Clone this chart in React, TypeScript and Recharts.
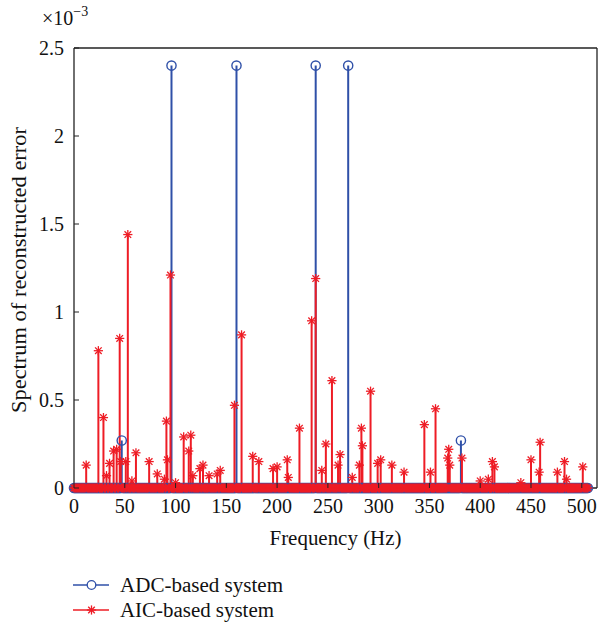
import React from 'react';
import { ComposedChart, Scatter, XAxis, YAxis, ErrorBar } from 'recharts';

// Frequency grid (Hz) of the spectrum bins
const FREQ_MAX_HZ = 506;
const X_TICKS = [0, 50, 100, 150, 200, 250, 300, 350, 400, 450, 500];
const Y_TICKS = [0, 0.5, 1, 1.5, 2, 2.5];

// Spectrum values in units of 1e-3: [frequency Hz, value]
const ADC_PEAKS: [number, number][] = [
  [47, 0.27], [96, 2.4], [160, 2.4], [238, 2.4], [270, 2.4], [381, 0.27],
];
const AIC_PEAKS: [number, number][] = [
  [12, 0.13], [24, 0.78], [29, 0.4], [32, 0.07], [35, 0.14], [39, 0.21], [42, 0.22],
  [45, 0.85], [46, 0.15], [51, 0.15], [53, 1.44], [57, 0.04], [61, 0.2], [74, 0.15],
  [82, 0.08], [89, 0.05], [91, 0.38], [92, 0.16], [95, 1.21], [100, 0.03], [108, 0.29],
  [113, 0.21], [115, 0.3], [117, 0.07], [124, 0.11], [127, 0.13], [133, 0.07], [141, 0.08],
  [144, 0.1], [158, 0.47], [165, 0.87], [176, 0.18], [182, 0.15], [196, 0.11], [200, 0.12],
  [210, 0.16], [211, 0.06], [222, 0.34], [234, 0.95], [238, 1.19], [244, 0.1], [248, 0.25],
  [254, 0.61], [260, 0.13], [262, 0.19], [274, 0.06], [281, 0.13], [283, 0.34], [284, 0.24],
  [292, 0.55], [299, 0.14], [302, 0.16], [313, 0.13], [325, 0.09], [345, 0.36], [351, 0.09],
  [356, 0.45], [368, 0.17], [369, 0.22], [370, 0.13], [382, 0.17], [400, 0.04], [408, 0.05],
  [412, 0.15], [414, 0.12], [440, 0.03], [450, 0.16], [458, 0.09], [459, 0.26], [476, 0.09],
  [483, 0.15], [485, 0.05], [501, 0.12],
];

const BLUE = '#2f50a8';
const RED = '#ee1c25';
const AXIS = '#222';
const FONT = '"Liberation Serif", "DejaVu Serif", serif';
const FS = 20;

const bins = Array.from({ length: FREQ_MAX_HZ + 1 }, (_, i) => i);
const adcMap = new Map(ADC_PEAKS);
const aicMap = new Map(AIC_PEAKS);
const adcData = bins.map((f) => ({ f, v: adcMap.get(f) ?? 0 }));
const aicData = bins.map((f) => ({ f, v: aicMap.get(f) ?? 0 }));

const Circle = (p: any) => (
  <circle cx={p.cx} cy={p.cy} r={4.6} fill="none" stroke={BLUE} strokeWidth={1.4} />
);

const Star = (p: any) => {
  const { cx, cy } = p;
  const s = 4.6;
  const d = s * 0.72;
  return (
    <g stroke={RED} strokeWidth={1.3}>
      <line x1={cx - s} y1={cy} x2={cx + s} y2={cy} />
      <line x1={cx} y1={cy - s} x2={cx} y2={cy + s} />
      <line x1={cx - d} y1={cy - d} x2={cx + d} y2={cy + d} />
      <line x1={cx - d} y1={cy + d} x2={cx + d} y2={cy - d} />
    </g>
  );
};

const LM = 10; // left tick margin
const BM = 10; // bottom tick margin

const LeftTick = (p: any) => {
  const { x, y, payload } = p;
  return (
    <g>
      <line x1={x + LM} x2={x + LM + 5} y1={y} y2={y} stroke={AXIS} strokeWidth={1} />
      <text x={x} y={y} dy="0.34em" textAnchor="end" fontFamily={FONT} fontSize={FS} fill="#111">
        {payload.value}
      </text>
    </g>
  );
};

const BottomTick = (p: any) => {
  const { x, y, payload } = p;
  return (
    <g>
      <line x1={x} x2={x} y1={y - BM} y2={y - BM - 5} stroke={AXIS} strokeWidth={1} />
      <text x={x} y={y + 15} textAnchor="middle" fontFamily={FONT} fontSize={FS} fill="#111">
        {payload.value}
      </text>
    </g>
  );
};

const TopTick = (p: any) => (
  <line x1={p.x} x2={p.x} y1={p.y} y2={p.y + 5} stroke={AXIS} strokeWidth={1} />
);
const RightTick = (p: any) => (
  <line x1={p.x - 5} x2={p.x} y1={p.y} y2={p.y} stroke={AXIS} strokeWidth={1} />
);

const YTitle = (p: any) => {
  const vb = p.viewBox || {};
  const cx = (vb.x ?? 0) + 19;
  const cy = (vb.y ?? 0) + (vb.height ?? 0) / 2 + 2;
  const top = vb.y ?? 0;
  return (
    <g>
      <text
        x={cx}
        y={cy}
        transform={`rotate(-90 ${cx} ${cy})`}
        textAnchor="middle"
        dy="0.35em"
        fontFamily={FONT}
        fontSize={FS}
        fill="#111"
        textLength={286}
        lengthAdjust="spacingAndGlyphs"
      >
        Spectrum of reconstructed error
      </text>
      <text x={42} y={top - 23} fontFamily={FONT} fontSize={FS} fill="#111">
        ×10
        <tspan dy={-9} fontSize={14}>−3</tspan>
      </text>
    </g>
  );
};

const XTitle = (p: any) => {
  const vb = p.viewBox || {};
  const cx = (vb.x ?? 0) + (vb.width ?? 0) / 2;
  const y = (vb.y ?? 0) + 57;
  return (
    <text
      x={cx}
      y={y}
      textAnchor="middle"
      fontFamily={FONT}
      fontSize={FS}
      fill="#111"
      textLength={132}
      lengthAdjust="spacingAndGlyphs"
    >
      Frequency (Hz)
    </text>
  );
};

const Legend = () => (
  <svg width={599} height={70} style={{ position: 'absolute', left: 0, top: 560 }}>
    <g>
      <line x1={73} x2={109} y1={25} y2={25} stroke={BLUE} strokeWidth={1.3} />
      <circle cx={91.5} cy={25} r={4.3} fill="#fff" stroke={BLUE} strokeWidth={1.3} />
      <text
        x={120}
        y={25}
        dy="0.34em"
        fontFamily={FONT}
        fontSize={FS}
        fill="#111"
        textLength={163}
        lengthAdjust="spacingAndGlyphs"
      >
        ADC-based system
      </text>
    </g>
    <g>
      <line x1={73} x2={109} y1={50} y2={50} stroke={RED} strokeWidth={1.3} />
      <Star cx={91.5} cy={50} />
      <text
        x={120}
        y={50}
        dy="0.34em"
        fontFamily={FONT}
        fontSize={FS}
        fill="#111"
        textLength={154}
        lengthAdjust="spacingAndGlyphs"
      >
        AIC-based system
      </text>
    </g>
  </svg>
);

export default function App() {
  return (
    <div style={{ position: 'absolute', left: 0, top: 0, width: 599, height: 625, background: '#fff' }}>
      <ComposedChart width={599} height={625} margin={{ top: 8, right: 0, bottom: 0, left: 0 }}>
        <XAxis
          xAxisId="b"
          dataKey="f"
          type="number"
          domain={[0, 515]}
          ticks={X_TICKS}
          height={137}
          axisLine={{ stroke: AXIS, strokeWidth: 1.3 }}
          tickLine={false}
          tickSize={0}
          tickMargin={BM}
          tick={<BottomTick />}
          interval={0}
          label={<XTitle />}
        />
        <XAxis
          xAxisId="t"
          orientation="top"
          type="number"
          domain={[0, 515]}
          ticks={X_TICKS}
          height={40}
          axisLine={{ stroke: AXIS, strokeWidth: 1.3 }}
          tickLine={false}
          tickSize={0}
          tickMargin={0}
          tick={<TopTick />}
          interval={0}
        />
        <YAxis
          yAxisId="l"
          dataKey="v"
          type="number"
          domain={[0, 2.5]}
          ticks={Y_TICKS}
          width={74}
          axisLine={{ stroke: AXIS, strokeWidth: 1.3 }}
          tickLine={false}
          tickSize={0}
          tickMargin={LM}
          tick={<LeftTick />}
          interval={0}
          label={<YTitle />}
        />
        <YAxis
          yAxisId="r"
          orientation="right"
          type="number"
          domain={[0, 2.5]}
          ticks={Y_TICKS}
          width={2}
          axisLine={{ stroke: AXIS, strokeWidth: 1.3 }}
          tickLine={false}
          tickSize={0}
          tickMargin={0}
          tick={<RightTick />}
          interval={0}
        />
        <Scatter
          data={adcData}
          xAxisId="b"
          yAxisId="l"
          dataKey="v"
          shape={<Circle />}
          isAnimationActive={false}
        >
          <ErrorBar
            dataKey={(d: any) => [d.v, 0]}
            direction="y"
            width={0}
            stroke={BLUE}
            strokeWidth={2}
            isAnimationActive={false}
          />
        </Scatter>
        <Scatter
          data={aicData}
          xAxisId="b"
          yAxisId="l"
          dataKey="v"
          shape={<Star />}
          isAnimationActive={false}
        >
          <ErrorBar
            dataKey={(d: any) => [d.v, 0]}
            direction="y"
            width={0}
            stroke={RED}
            strokeWidth={2}
            isAnimationActive={false}
          />
        </Scatter>
      </ComposedChart>
      <Legend />
    </div>
  );
}
